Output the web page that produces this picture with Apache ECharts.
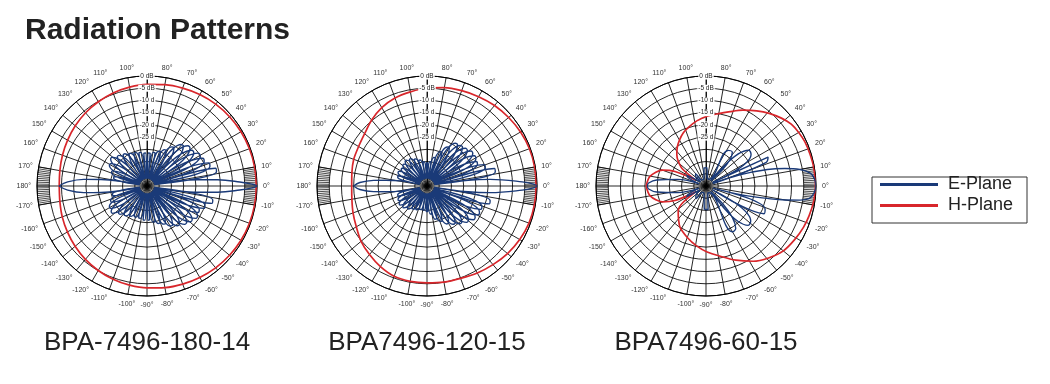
<!DOCTYPE html>
<html><head><meta charset="utf-8">
<script src="https://cdn.jsdelivr.net/npm/echarts@6/dist/echarts.min.js"></script>
<style>html,body{margin:0;padding:0;background:#fff}#c{width:1050px;height:384px}</style>
</head><body><div id="c"></div>
<script>
// ---------- data (angle in degrees, gain in dB) ----------
const titleText = 'Radiation Patterns';
const chartNames = ['BPA-7496-180-14', 'BPA7496-120-15', 'BPA7496-60-15'];
const seriesNames = ['E-Plane', 'H-Plane'];
const radiusMin = -45, radiusMax = 0, radiusStep = 5;

const ePlane1 = [
[-180,-9],[-177,-12.5],[-174,-19],[-172,-26],[-170,-42],
[-167,-30.5],[-164,-30.5],[-161,-42],
[-158.5,-29],[-155.5,-29],[-153,-42],
[-151.5,-27.5],[-148.5,-27.5],[-146,-42],
[-144.5,-27],[-141.5,-27],[-139,-42],
[-136.5,-29],[-133.5,-29],[-131,-42],
[-128.5,-30],[-125.5,-30],[-123,-42],
[-120.5,-31],[-117.5,-31],[-115,-42],
[-112.5,-31.5],[-109.5,-31.5],[-107,-42],
[-104.5,-31.5],[-101.5,-31.5],[-99,-42],
[-96.5,-31],[-93.5,-31],[-91,-42],
[-88.5,-31],[-85.5,-31],[-83,-42],
[-80.5,-30],[-77.5,-30],[-75,-42],
[-73.5,-29],[-70.5,-29],[-68,-42],
[-66.5,-28],[-63.5,-28],[-61,-42],
[-59.5,-26],[-56.5,-26],[-54,-42],
[-52.5,-24.5],[-49.5,-24.5],[-47,-42],
[-45.5,-23],[-42.5,-23],[-40.5,-42],
[-39.5,-22],[-36.5,-22],[-34.5,-42],
[-33.5,-21],[-30.5,-21],[-28.5,-42],
[-27.5,-21.5],[-24.5,-21.5],[-22.5,-42],
[-21.5,-20],[-18.5,-20],[-16.5,-42],
[-15,-17.5],[-12,-17.5],[-10.5,-42],
[-9,-32],[-7,-24],[-5,-16],[-2.5,-7],[-1,-2],[0,0],[1,-2],[2.5,-7],[5,-16],[7,-24],[9,-32],
[10.5,-42],[11.5,-16],[14.5,-16],[16,-42],
[17.5,-18],[20.5,-18],[22,-42],
[23.5,-19.5],[26.5,-19.5],[28,-42],
[29.5,-20],[32.5,-20],[34,-42],
[35.5,-21.5],[38.5,-21.5],[40,-42],
[41.5,-21.5],[44.5,-21.5],[46,-42],
[47.5,-23],[50.5,-23],[52.5,-42],
[54.5,-26],[57.5,-26],[59.5,-42],
[61.5,-28.5],[64.5,-28.5],[66.5,-42],
[68.5,-30],[71.5,-30],[74,-42],
[76.5,-31],[79.5,-31],[82,-42],
[84.5,-31.5],[87.5,-31.5],[90,-42],
[92.5,-31.5],[95.5,-31.5],[98,-42],
[100.5,-31],[103.5,-31],[106,-42],
[108.5,-30.5],[111.5,-30.5],[114,-42],
[116.5,-30],[119.5,-30],[122,-42],
[124.5,-29],[127.5,-29],[130,-42],
[132.5,-28],[135.5,-28],[138,-42],
[140.5,-26.5],[143.5,-26.5],[146,-42],
[148.5,-27.5],[151.5,-27.5],[154,-42],
[156.5,-29.5],[159.5,-29.5],[162,-42],
[164,-31],[167,-31],[170,-42],
[172,-26],[174,-19],[177,-12.5],[180,-9]
];
const hPlane1 = [
[-180,-9.1],[-170,-8.8],[-160,-8.1],[-150,-7.4],[-140,-6.6],[-130,-5.8],[-120,-5.1],[-110,-4.4],[-100,-3.8],
[-90,-3.3],[-80,-2.8],[-70,-2.3],[-60,-1.8],[-50,-1.3],[-40,-0.9],[-30,-0.6],[-20,-0.4],[-10,-0.3],
[0,-0.3],[10,-0.3],[20,-0.4],[30,-0.6],[40,-0.9],[50,-1.3],[60,-1.8],[70,-2.4],[80,-2.9],
[90,-3.4],[100,-3.9],[110,-4.5],[120,-5.2],[130,-5.9],[140,-6.7],[150,-7.5],[160,-8.2],[170,-8.8],[180,-9.1]
];

const ePlane2 = [
[-180,-15],[-177,-17.5],[-174,-23],[-172,-28],[-169,-34],[-166,-42],
[-163.5,-32.5],[-160.5,-32.5],[-158,-42],
[-155.5,-32],[-152.5,-32],[-150,-42],
[-147.5,-31.5],[-144.5,-31.5],[-142,-42],
[-139.5,-32],[-136.5,-32],[-134,-42],
[-131.5,-33],[-128.5,-33],[-126,-42],
[-123.5,-34],[-120.5,-34],[-118,-42],
[-115.5,-34.5],[-112.5,-34.5],[-110,-42],
[-107.5,-35],[-104.5,-35],[-102,-42],
[-99.5,-35],[-96.5,-35],[-94,-42],
[-91.5,-34.5],[-88.5,-34.5],[-86,-42],
[-83.5,-33.5],[-80.5,-33.5],[-78.5,-42],
[-76.5,-31],[-73.5,-31],[-71.5,-42],
[-69.5,-29.5],[-66.5,-29.5],[-64.5,-42],
[-62.5,-27.5],[-59.5,-27.5],[-57.5,-42],
[-55.5,-26],[-52.5,-26],[-50.5,-42],
[-49,-24.5],[-46,-24.5],[-44,-42],
[-42.5,-23],[-39.5,-23],[-37.5,-42],
[-36,-21.5],[-33,-21.5],[-31,-42],
[-29.5,-21],[-26.5,-21],[-24.5,-42],
[-23.5,-21],[-20.5,-21],[-18.5,-42],
[-16,-18.5],[-13,-18.5],[-11,-42],
[-9.5,-38],[-8,-28],[-6,-19],[-2.5,-6],[-1,-1.5],[0,0],[1,-1.5],[2.5,-6],[6,-19],[8,-28],[9.5,-38],
[10.5,-42],[11.5,-16.5],[14.5,-16.5],[15.5,-42],
[17.5,-20],[20.5,-20],[22,-42],
[23.5,-22.5],[26.5,-22.5],[28,-42],
[29.5,-22],[32.5,-22],[34,-42],
[35.5,-22],[38.5,-22],[40,-42],
[41.5,-23],[44.5,-23],[46,-42],
[47.5,-23.5],[50.5,-23.5],[52,-42],
[53.5,-24],[56.5,-24],[58,-42],
[59.5,-27],[62.5,-27],[64.5,-42],
[66.5,-30],[69.5,-30],[71.5,-42],
[73.5,-33],[76.5,-33],[78.5,-42],
[80.5,-35],[83.5,-35],[86,-42],
[88.5,-35.5],[91.5,-35.5],[94,-42],
[96.5,-35],[99.5,-35],[102,-42],
[104.5,-34],[107.5,-34],[110,-42],
[112.5,-33],[115.5,-33],[118,-42],
[120.5,-32],[123.5,-32],[126,-42],
[128.5,-31.5],[131.5,-31.5],[134,-42],
[136.5,-32],[139.5,-32],[142,-42],
[144.5,-32.5],[147.5,-32.5],[150,-42],
[152.5,-32],[155.5,-32],[158,-42],
[160.5,-32.5],[163.5,-32.5],[166,-42],
[169,-34],[172,-28],[174,-23],[177,-17.5],[180,-15]
];
const hPlane2 = [
[-180,-14.2],[-170,-13.8],[-160,-12.8],[-150,-11.6],[-140,-9.8],[-130,-8.4],[-120,-6.9],[-110,-5.7],[-100,-5.4],
[-90,-5.4],[-80,-5.1],[-70,-4.8],[-60,-3.9],[-50,-3],[-40,-2],[-30,-1.2],[-20,-0.6],[-10,-0.4],
[0,-0.4],[10,-0.3],[20,-0.4],[30,-0.8],[40,-1.4],[50,-2],[60,-2.8],[70,-3.5],[80,-4.1],
[90,-4.9],[100,-5.9],[110,-6.7],[120,-8],[130,-9.8],[140,-11.7],[150,-12.7],[160,-13.1],[170,-13.8],[180,-14.2]
];

const ePlane3 = [
[-180,-21],[-177,-21.5],[-173,-24.7],[-167,-33],[-163,-42],
[-155,-37],[-151,-36],[-146,-42],
[-134,-39],[-128,-38.5],[-120,-42],
[-106,-42],[-94,-35.5],[-85,-35.3],[-76,-42],
[-66,-42],[-60,-23.4],[-55,-23.8],[-48,-42],
[-43,-21.4],[-38,-21.8],[-31,-42],
[-25.5,-18.7],[-21.5,-19],[-16.5,-42],
[-14,-30],[-11.5,-19.5],[-10,-12],[-8.5,-6],[-7,-2.5],[-4,-0.8],[0,0],[4,-0.6],[7,-2],[10,-6],[12.5,-12],[15,-19],[18,-30],[20,-42],
[21.5,-18.5],[25,-17],[28.5,-42],
[35,-22.5],[40,-22.2],[46,-42],
[52,-27.5],[58,-27.8],[66,-42],
[80,-42],[87,-37.5],[96,-37.5],[106,-42],
[124,-42],[130,-38.5],[136,-39],[142,-42],
[146,-42],[151,-36],[155,-37],[163,-42],
[167,-33],[173,-24.7],[177,-21.5],[180,-21]
];
const hPlane3 = [
[-180,-20.5],[-170,-21.8],[-160,-26],[-155,-31],[-150,-40],[-144,-33],[-138,-29.7],[-130,-27.5],[-122,-25],
[-110,-22.6],[-99,-20.2],[-89,-18],[-79,-15.8],[-68,-12.3],[-58,-8.7],[-49,-6],[-40,-3.7],[-31,-2.6],
[-23,-1.7],[-16,-1.1],[-8,-0.5],[0,-0.2],[10,-0.3],[17,-0.5],[24,-0.7],[30,-1.2],[36,-1.9],[42,-3.5],
[49,-5.6],[56,-7.9],[64,-10.5],[72,-13],[81,-15.1],[90,-16.6],[98,-18.1],[106,-19.8],[113,-21.3],
[120,-23.3],[127,-25.4],[133,-27.5],[138,-29.7],[144,-33],[150,-40],[155,-31],[160,-26],[170,-21.8],[180,-20.5]
];

const ePlanes = [ePlane1, ePlane2, ePlane3];
const hPlanes = [hPlane1, hPlane2, hPlane3];

// ---------- layout / style ----------
const centers = [[147, 186], [427, 186], [706, 186]];
const R = 110;
const BLUE = '#1a3a78', RED = '#d8262b', GRID = '#000';
const FONT = '"Liberation Sans", Arial, Helvetica, sans-serif';

function toAxis(a) { return a < 90 ? a + 360 : a; }
function angleLabel(v) {
  let d = ((v % 360) + 360) % 360;
  if (d > 180) d -= 360;
  if (d === 90) return '';
  return d + '°';
}
function radiusLabel(v) {
  if (v >= -5) return v + ' dB';
  if (v >= -25) return v + ' d';
  return '';
}
// 1-degree hatch ticks near 0° and 180° (axis decoration)
const hatchAngles = [];
for (let a = -10; a <= 10; a++) hatchAngles.push(a);
for (let a = 170; a <= 190; a++) hatchAngles.push(a);

const polar = [], angleAxis = [], radiusAxis = [], series = [];
centers.forEach(c => polar.push({ center: c, radius: R }));
centers.forEach(c => polar.push({ center: c, radius: R }));
for (let i = 0; i < 3; i++) {
  angleAxis.push({
    polarIndex: i, type: 'value', min: 90, max: 450, interval: 10, startAngle: 90, clockwise: false,
    axisLine: { show: true, lineStyle: { color: GRID, width: 1 } },
    axisTick: { show: false },
    splitLine: { show: true, lineStyle: { color: GRID, width: 0.85 } },
    axisLabel: { formatter: angleLabel, fontSize: 7, color: '#333', margin: 6, fontFamily: FONT }
  });
  radiusAxis.push({
    polarIndex: i, type: 'value', min: radiusMin, max: radiusMax, interval: radiusStep,
    axisLine: { show: true, lineStyle: { color: GRID, width: 0.85 } },
    axisTick: { show: false }, axisLabel: { show: false },
    splitLine: { show: true, lineStyle: { color: GRID, width: 0.85 } }
  });
}
for (let i = 0; i < 3; i++) {
  angleAxis.push({
    polarIndex: 3 + i, type: 'value', min: 90, max: 450, interval: 10, startAngle: 90, clockwise: false,
    axisLine: { show: false }, axisTick: { show: false }, axisLabel: { show: false }, splitLine: { show: false }
  });
  radiusAxis.push({
    polarIndex: 3 + i, type: 'value', min: radiusMin, max: radiusMax, interval: radiusStep, z: 10,
    axisLine: { show: false }, axisTick: { show: false }, splitLine: { show: false },
    axisLabel: {
      show: true, formatter: radiusLabel, fontSize: 6.5, color: '#222', margin: 0,
      align: 'center', verticalAlign: 'middle', backgroundColor: '#fff', padding: [0, 1], fontFamily: FONT
    }
  });
}
for (let i = 0; i < 3; i++) {
  series.push({
    type: 'custom', name: 'hatch', coordinateSystem: 'polar', polarIndex: i, silent: true, z: 1,
    data: hatchAngles.map(a => [0, toAxis(a)]),
    renderItem: function (params, api) {
      const a = api.value(1);
      const p1 = api.coord([-5, a]);
      const p2 = api.coord([0, a]);
      return { type: 'line', shape: { x1: p1[0], y1: p1[1], x2: p2[0], y2: p2[1] },
               style: { stroke: GRID, lineWidth: 0.7 } };
    }
  });
  series.push({
    type: 'line', name: seriesNames[1], coordinateSystem: 'polar', polarIndex: i, z: 2,
    data: hPlanes[i].map(p => [p[1], toAxis(p[0])]),
    showSymbol: false, smooth: 0.3, silent: true,
    lineStyle: { color: RED, width: 1.7 }, itemStyle: { color: RED }
  });
  series.push({
    type: 'line', name: seriesNames[0], coordinateSystem: 'polar', polarIndex: i, z: 3,
    data: ePlanes[i].map(p => [p[1], toAxis(p[0])]),
    showSymbol: false, smooth: 0.4, silent: true,
    lineStyle: { color: BLUE, width: 1.4 }, itemStyle: { color: BLUE }
  });
}

const chart = echarts.init(document.getElementById('c'), null, { renderer: 'canvas' });
chart.setOption({
  animation: false,
  backgroundColor: '#fff',
  title: { text: titleText, left: 25, top: 16, padding: 0,
           textStyle: { fontSize: 30, fontWeight: 'bold', color: '#222', fontFamily: FONT } },
  legend: {
    data: seriesNames, orient: 'vertical', left: 880, top: 175.5, selectedMode: false,
    padding: 0, itemGap: 3, itemWidth: 58, itemHeight: 3, icon: 'rect',
    textStyle: { fontSize: 18, color: '#222', padding: [0, 0, 0, 5], fontFamily: FONT }
  },
  polar, angleAxis, radiusAxis, series,
  graphic: [{
    type: 'rect', silent: true, shape: { x: 872, y: 177, width: 155, height: 46 },
    style: { fill: 'none', stroke: '#333', lineWidth: 1 }
  }].concat(chartNames.map((t, i) => ({
    type: 'text', x: centers[i][0], y: 343, silent: true,
    style: { text: t, fill: '#222', font: '26px ' + FONT, textAlign: 'center', textVerticalAlign: 'middle' }
  })))
});
</script></body></html>
